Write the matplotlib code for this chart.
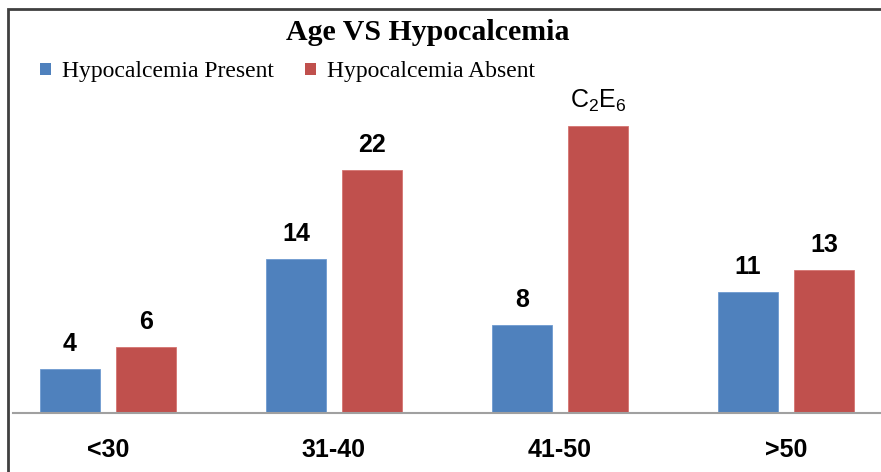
import numpy as np
import matplotlib
matplotlib.use("Agg")
import matplotlib.pyplot as plt
from matplotlib.patches import Rectangle, Patch

# data
categories = ["<30", "31-40", "41-50", ">50"]
present = [4, 14, 8, 11]
absent = [6, 22, 26, 13]
present_labels = ["4", "14", "8", "11"]
absent_labels = ["6", "22", r"C$_\mathregular{2}$E$_\mathregular{6}$", "13"]

BLUE = "#4F81BD"
RED = "#C0504D"
NARROW = ["Liberation Sans Narrow", "Liberation Sans", "DejaVu Sans"]
SERIF = ["Liberation Serif", "DejaVu Serif"]

W, H = 881, 472
fig = plt.figure(figsize=(W / 100, H / 100), dpi=100)

# outer chart border (only left and top visible, rest cropped)
fig.patches.append(Rectangle((8 / W, -0.2), 1.2, 1.2 - 9 / H,
                             transform=fig.transFigure, fill=False,
                             edgecolor="#404040", lw=2))

ax = fig.add_axes([13 / W, (H - 413) / H, (W - 13) / W, 331 / H])
x = np.arange(len(categories))
bw = 0.265
off = 0.168
b1 = ax.bar(x - off, present, bw, color=BLUE, edgecolor="#6F9BD0", lw=0.6)
b2 = ax.bar(x + off, absent, bw, color=RED, edgecolor="#D57471", lw=0.6)

ax.set_xlim(-0.42, 3.42)
ax.set_ylim(0, 30)
ax.set_yticks([])
for s in ["left", "right", "top"]:
    ax.spines[s].set_visible(False)
ax.spines["bottom"].set_color("#A0A0A0")
ax.spines["bottom"].set_linewidth(1.5)

ax.set_xticks(x)
ax.set_xticklabels(categories, family=NARROW, fontweight="bold", fontsize=18)
ax.tick_params(axis="x", length=0, pad=18)

for rect, lab in zip(b1, present_labels):
    ax.annotate(lab, (rect.get_x() + rect.get_width() / 2, rect.get_height()),
                xytext=(0, 18), textcoords="offset points", ha="center",
                va="center", family=NARROW, fontweight="bold", fontsize=18)
for rect, lab in zip(b2, absent_labels):
    wt = "normal" if "$" in lab else "bold"
    ax.annotate(lab, (rect.get_x() + rect.get_width() / 2, rect.get_height()),
                xytext=(0, 18), textcoords="offset points", ha="center",
                va="center", family=NARROW, fontsize=18, fontweight=wt)

fig.text(428 / W, 1 - 33 / H, "Age VS Hypocalcemia", ha="center", va="center",
         family=SERIF, fontweight="bold", fontsize=21.5)

handles = [Patch(facecolor=BLUE, edgecolor="none"),
           Patch(facecolor=RED, edgecolor="none")]
fig.legend(handles, ["Hypocalcemia Present", "Hypocalcemia Absent"],
           loc="center left", bbox_to_anchor=(40 / W, 1 - 72 / H), ncol=2,
           frameon=False, borderpad=0, borderaxespad=0, handlelength=0.45,
           handleheight=0.45, handletextpad=0.5, columnspacing=1.3,
           prop={"family": SERIF, "size": 17})

fig.savefig("out.png", dpi=100)
